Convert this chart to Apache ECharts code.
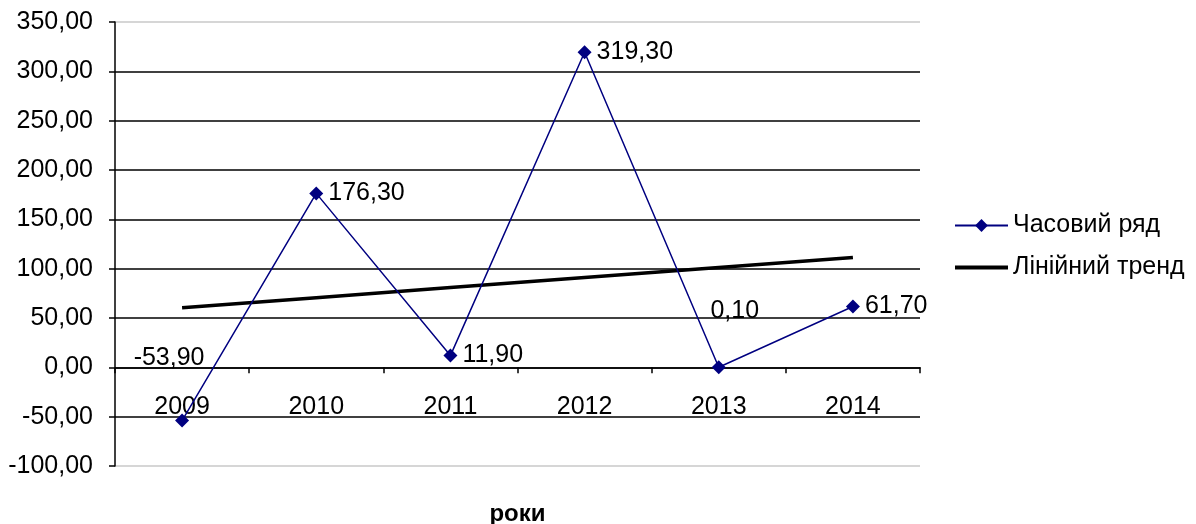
<!DOCTYPE html>
<html>
<head>
<meta charset="utf-8">
<script src="https://cdn.jsdelivr.net/npm/echarts@6/dist/echarts.min.js"></script>
<style>html,body{margin:0;padding:0;background:#fff}#c{width:1196px;height:524px}</style>
</head>
<body>
<div id="c"></div>
<script>
var years = ['2009', '2010', '2011', '2012', '2013', '2014'];
var seriesValues = [-53.9, 176.3, 11.9, 319.3, 0.1, 61.7];
var trendValues = [60.4, 70.6, 80.8, 91.0, 101.2, 111.4];
var seriesName = 'Часовий ряд';
var trendName = 'Лінійний тренд';
var axisName = 'роки';

var FONT = '"Liberation Sans", Arial, sans-serif';
function fmt(v) { return Number(v).toFixed(2).replace('.', ','); }

var labelOffsets = [[-13, -62], null, null, null, [16, -56], null];
var pointData = seriesValues.map(function (v, i) {
  var d = { value: v };
  if (labelOffsets[i]) {
    d.label = { position: 'inside', offset: labelOffsets[i] };
  }
  return d;
});

var chart = echarts.init(document.getElementById('c'), null, { renderer: 'canvas' });
chart.setOption({
  backgroundColor: '#fff',
  animation: false,
  textStyle: { fontFamily: FONT },
  grid: { left: 115, right: 276, top: 22, bottom: 58, containLabel: false, outerBoundsMode: 'none' },
  legend: {
    orient: 'vertical',
    left: 953,
    top: 213,
    padding: 0,
    itemWidth: 53,
    itemHeight: 16,
    itemGap: 17,
    textStyle: { fontSize: 25, color: '#000', fontFamily: FONT },
    data: [
      { name: seriesName },
      { name: trendName, itemStyle: { opacity: 0 }, lineStyle: { width: 4, color: '#000' } }
    ]
  },
  xAxis: {
    type: 'category',
    data: years,
    boundaryGap: true,
    name: axisName,
    nameLocation: 'middle',
    nameGap: 36,
    nameTextStyle: { fontSize: 24, fontWeight: 'bold', color: '#000', fontFamily: FONT },
    axisLine: { onZero: true, lineStyle: { color: '#000', width: 1.5 } },
    axisTick: { show: true, length: 6, lineStyle: { color: '#000', width: 1.5 } },
    axisLabel: { margin: -71, fontSize: 25, color: '#000', fontFamily: FONT },
    splitLine: { show: false }
  },
  yAxis: {
    type: 'value',
    min: -100,
    max: 350,
    interval: 50,
    axisLine: { show: true, lineStyle: { color: '#000', width: 1.5 } },
    axisTick: { show: true, length: 6, lineStyle: { color: '#000', width: 1.5 } },
    axisLabel: { margin: 22, fontSize: 25, color: '#000', fontFamily: FONT, formatter: fmt },
    splitLine: {
      show: true,
      lineStyle: {
        width: 1.5,
        color: ['#c8c8c8', '#000', '#000', '#000', '#000', '#000', '#000', '#000', '#000', '#c8c8c8']
      }
    }
  },
  series: [
    {
      name: seriesName,
      type: 'line',
      data: pointData,
      symbol: 'diamond',
      symbolSize: 14,
      color: '#000080',
      lineStyle: { color: '#000080', width: 1.5 },
      itemStyle: { color: '#000080' },
      z: 3,
      label: {
        show: true,
        position: 'right',
        distance: 5,
        fontSize: 25,
        color: '#000',
        fontFamily: FONT,
        formatter: function (p) { return fmt(p.value); }
      }
    },
    {
      name: trendName,
      type: 'line',
      data: trendValues,
      symbol: 'none',
      showSymbol: false,
      color: '#000',
      lineStyle: { color: '#000', width: 3.5 },
      z: 2
    }
  ]
});
</script>
</body>
</html>
